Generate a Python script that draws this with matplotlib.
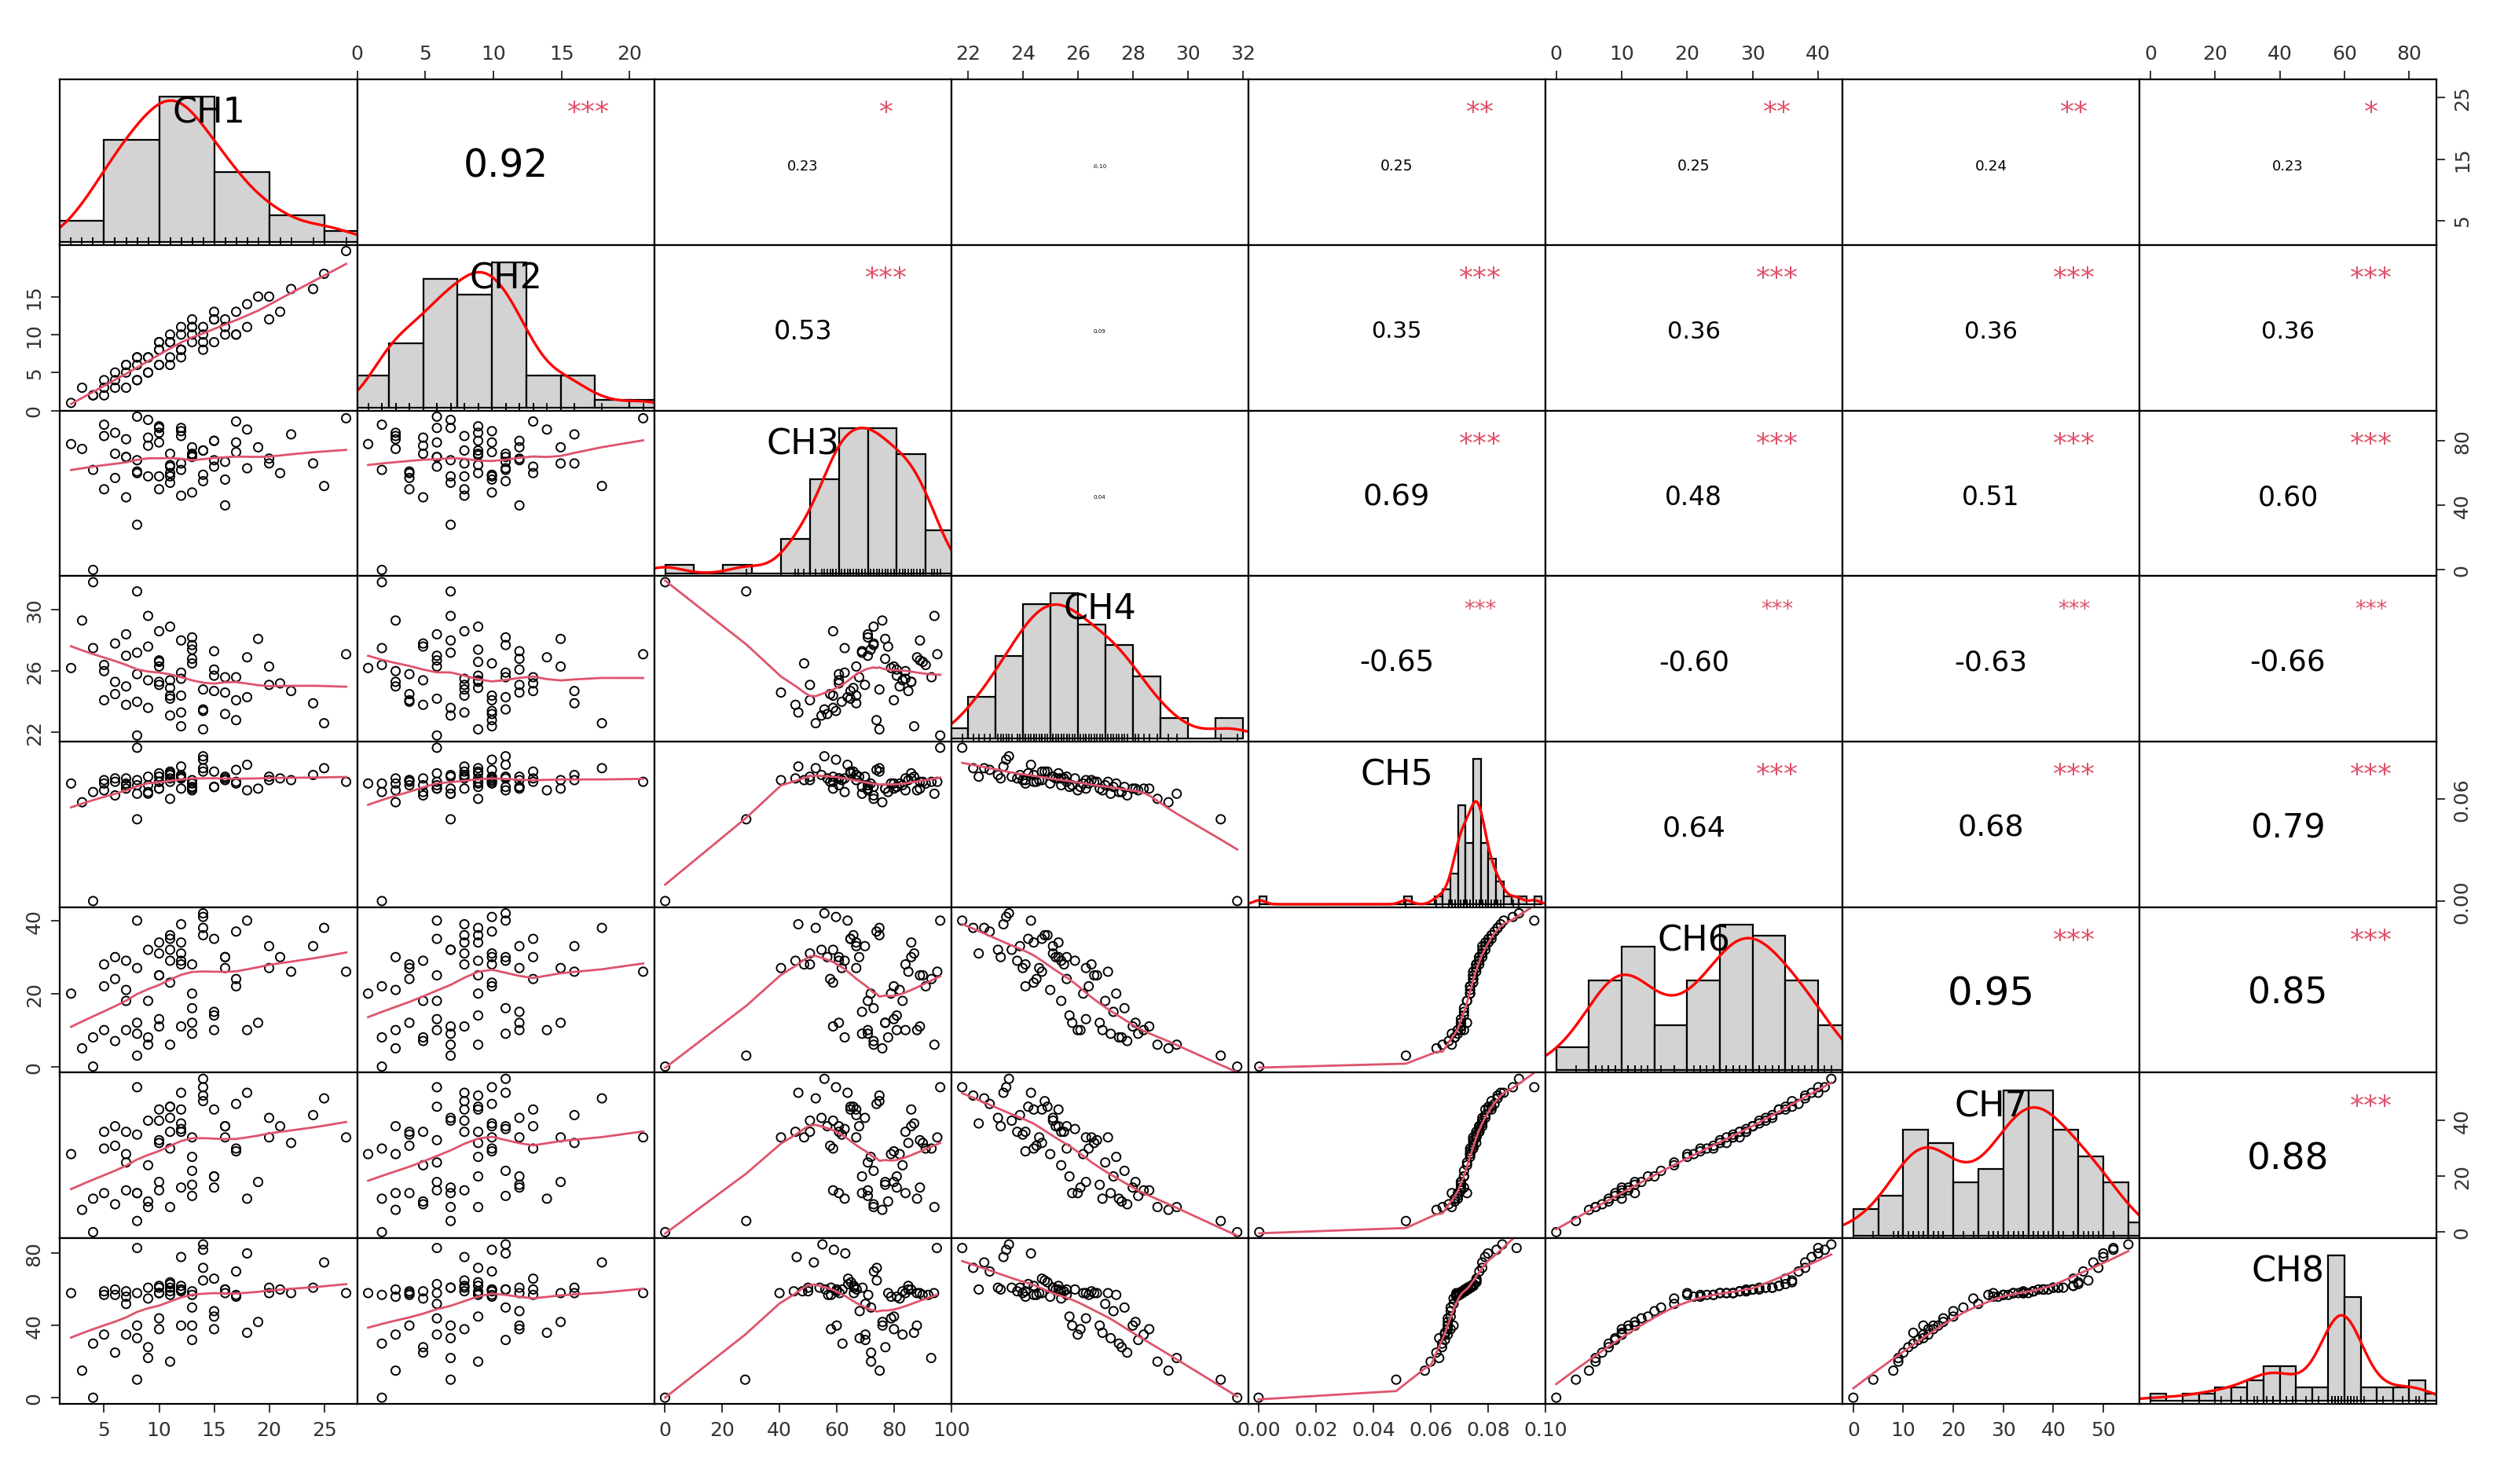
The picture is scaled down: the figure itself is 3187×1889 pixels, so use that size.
import numpy as np
import matplotlib
matplotlib.use("Agg")
import matplotlib.pyplot as plt

names = ["CH1","CH2","CH3","CH4","CH5","CH6","CH7","CH8"]
CH1 = [2,4,5,6,7,8,9,10,11,12, 13,14,15,16,17,18,19,20,22,25, 3,5,7,8,9,10,11,12,13,14,
       15,16,17,18,21,24,27,6,8,10, 11,12,13,14,9,10,11,12,7,15, 4,6,8,10,12,13,16,9,11,14,
       5,7,10,12,15,17,11,13,8,20]
CH2 = [1,2,4,3,6,4,7,6,9,8, 10,8,12,10,13,11,15,12,16,18, 3,2,5,7,5,8,6,10,9,11,
       9,12,10,14,13,16,21,4,7,6, 9,8,11,10,5,9,7,11,3,12, 2,5,4,9,8,12,11,7,10,9,
       3,6,8,7,13,10,9,11,6,15]
CH3 = [78,62,50,85,70,60,58,88,72,66, 48,74,80,56,92,63,76,69,84,52, 75,90,45,68,82,58,64,86,71,55,
       80,40,73,87,60,66,94,57,28,79, 65,83,70,59,77,89,54,62,81,68, 0,72,61,85,46,76,67,93,58,74,
       83,70,50,88,64,79,60,72,95,66]
CH4 = [26.2,27.5,24.1,25.3,28.4,25.8,23.6,26.7,28.9,24.4, 26.5,24.8,26.1,23.2,25.6,24.3,28.1,25.1,24.7,22.6,
       29.3,26.4,23.8,27.2,25.4,28.6,24.2,22.4,27.4,23.5, 25.7,24.6,22.8,26.9,25.2,23.9,27.1,24.5,31.2,26.3,
       24.9,25.5,28.2,23.4,27.6,26.6,23.1,25.9,25.0,27.3, 31.8,27.8,24.0,25.3,23.3,26.8,25.6,29.6,24.4,22.2,
       26.0,27.0,25.1,28.0,24.7,24.1,25.4,27.7,21.8,26.3]
CH5 = [0.069,0.064,0.071,0.072,0.066,0.068,0.073,0.070,0.060,0.074,
       0.071,0.076,0.067,0.072,0.070,0.080,0.066,0.073,0.071,0.078,
       0.058,0.069,0.072,0.063,0.068,0.066,0.075,0.073,0.069,0.085,
       0.067,0.071,0.077,0.065,0.072,0.074,0.070,0.070,0.048,0.066,
       0.076,0.072,0.065,0.083,0.064,0.070,0.074,0.072,0.069,0.067,
       0.0,0.062,0.071,0.075,0.079,0.066,0.073,0.063,0.070,0.078,
       0.065,0.068,0.073,0.066,0.076,0.069,0.072,0.067,0.090,0.071]
CH6 = [20,8,28,30,10,12,32,25,6,34, 28,36,10,30,24,40,12,33,26,38, 5,22,29,9,18,11,35,31,20,42,
       14,27,37,10,30,33,26,24,3,13, 36,28,9,41,8,25,32,29,21,15, 0,7,27,34,39,12,30,6,23,38,
       10,18,31,11,35,22,29,16,40,27]
CH7 = [28,12,36,38,15,14,40,33,9,44, 34,47,16,38,30,50,18,41,32,48, 8,30,36,14,24,15,45,39,27,55,
       20,34,46,12,38,42,34,31,4,18, 45,36,13,52,11,32,41,37,28,20, 0,10,35,44,50,17,38,9,30,49,
       14,25,40,16,44,29,36,22,52,34]
CH8 = [58,30,59,60,35,40,61,58,20,62, 59,65,38,60,57,80,42,61,58,75, 15,57,59,33,55,38,63,60,57,85,
       45,58,70,36,60,61,58,57,10,44, 64,59,32,82,28,58,61,60,56,48, 0,25,58,62,78,40,60,22,57,72,
       35,52,61,40,66,56,59,50,83,58]
data = [np.array(v, float) for v in [CH1,CH2,CH3,CH4,CH5,CH6,CH7,CH8]]
hist_step = [5, 2.5, 10, 1, 0.0025, 5, 5, 5]

corr_vals = {(0,1):"0.92",(0,2):"0.23",(0,3):"-0.10",(0,4):"0.25",(0,5):"0.25",(0,6):"0.24",(0,7):"0.23",
             (1,2):"0.53",(1,3):"0.09",(1,4):"0.35",(1,5):"0.36",(1,6):"0.36",(1,7):"0.36",
             (2,3):"0.04",(2,4):"0.69",(2,5):"0.48",(2,6):"0.51",(2,7):"0.60",
             (3,4):"-0.65",(3,5):"-0.60",(3,6):"-0.63",(3,7):"-0.66",
             (4,5):"0.64",(4,6):"0.68",(4,7):"0.79",
             (5,6):"0.95",(5,7):"0.85",(6,7):"0.88"}
stars = {(0,1):"***",(0,2):"*",(0,3):"",(0,4):"**",(0,5):"**",(0,6):"**",(0,7):"*",
         (1,2):"***",(1,3):"",(1,4):"***",(1,5):"***",(1,6):"***",(1,7):"***",
         (2,3):"",(2,4):"***",(2,5):"***",(2,6):"***",(2,7):"***",
         (3,4):"***",(3,5):"***",(3,6):"***",(3,7):"***",
         (4,5):"***",(4,6):"***",(4,7):"***",(5,6):"***",(5,7):"***",(6,7):"***"}

top_ticks = {1:[0,5,10,15,20],3:[22,24,26,28,30,32],5:[0,10,20,30,40],7:[0,20,40,60,80]}
bottom_ticks = {0:[5,10,15,20,25],2:[0,20,40,60,80,100],4:[0.00,0.02,0.04,0.06,0.08,0.10],6:[0,10,20,30,40,50]}
right_ticks = {0:[5,15,25],2:[0,40,80],4:[0.00,0.06],6:[0,20,40]}
left_ticks = {1:[0,5,10,15],3:[22,26,30],5:[0,20,40],7:[0,40,80]}

def fmt(v, k):
    if k == 4: return f"{v:.2f}"
    return f"{v:g}"

def lowess(x, y, f=2/3):
    o = np.argsort(x); x = x[o]; y = y[o]
    n = len(x); r = int(np.ceil(f*n))
    yh = np.zeros(n)
    for i in range(n):
        d = np.abs(x - x[i]); h = np.sort(d)[r-1] + 1e-12
        w = np.clip(1 - (d/h)**3, 0, 1)**3
        W = np.sum(w); xm = np.sum(w*x)/W; ym = np.sum(w*y)/W
        sxx = np.sum(w*(x-xm)**2)
        b = np.sum(w*(x-xm)*(y-ym))/sxx if sxx > 0 else 0
        yh[i] = ym + b*(x[i]-xm)
    return x, yh

def lims(v):
    lo, hi = v.min(), v.max(); p = (hi-lo)*0.04
    return lo-p, hi+p

fig = plt.figure(figsize=(15.935, 9.45), dpi=200)
L, R, B, T = 0.024, 0.973, 0.054, 0.946
w = (R-L)/8; h = (T-B)/8
red_star = "#DF536B"
for i in range(8):
    for j in range(8):
        ax = fig.add_axes([L+j*w, T-(i+1)*h, w, h])
        ax.set_xticks([]); ax.set_yticks([])
        x = data[j]; y = data[i]
        ax.set_xlim(*lims(x))
        if i == j:
            v = data[i]
            st_ = hist_step[i]
            edges = np.arange(np.floor(v.min()/st_)*st_, v.max()+st_*1.001, st_)
            counts, edges = np.histogram(v, bins=edges)
            dens = counts/(len(v)*np.diff(edges))
            ax.bar(edges[:-1], dens, width=np.diff(edges), align='edge',
                   color="#D3D3D3", edgecolor="black", linewidth=0.8)
            bw = 0.9*min(v.std(), (np.percentile(v,75)-np.percentile(v,25))/1.34)*len(v)**(-0.2)
            gx = np.linspace(*lims(v), 300)
            kd = np.exp(-0.5*((gx[:,None]-v[None,:])/bw)**2).sum(1)/(len(v)*bw*np.sqrt(2*np.pi))
            ax.plot(gx, kd, color="red", lw=1.2)
            ax.plot(v, np.zeros_like(v), '|', color='black', ms=4, mew=0.6)
            top = max(dens.max(), kd.max())
            ax.set_ylim(-0.02*top, top*1.12)
            ax.text(0.5, 0.8, names[i], transform=ax.transAxes, ha='center', va='center', fontsize=16)
        elif i > j:
            ax.set_ylim(*lims(y))
            ax.scatter(x, y, s=16, facecolors='none', edgecolors='black', linewidths=0.7)
            lx, ly = lowess(x, y)
            ax.plot(lx, ly, color="#DF536B", lw=1.0)
        else:
            ax.set_ylim(*lims(y))
            s = corr_vals[(i,j)]
            r = abs(float(s))
            st = stars[(i,j)]
            if st:
                fs = np.interp(r, [0.2,0.3,0.36,0.6,0.7,0.95], [6,7.5,11,12.5,14,18])
            else:
                fs = 2.5
            ax.text(0.5, 0.48, s, transform=ax.transAxes, ha='center', va='center', fontsize=fs)
            if st:
                ax.text(0.78, 0.8, st, transform=ax.transAxes, ha='center', va='center',
                        fontsize=10 if i == 3 else 13, color=red_star)
        if i == 0 and j in top_ticks:
            ax.xaxis.set_ticks_position('top')
            ax.set_xticks(top_ticks[j]); ax.set_xticklabels([fmt(t,j) for t in top_ticks[j]])
        if i == 7 and j in bottom_ticks:
            ax.set_xticks(bottom_ticks[j]); ax.set_xticklabels([fmt(t,j) for t in bottom_ticks[j]])
        if j == 7 and i in right_ticks:
            ax.yaxis.set_ticks_position('right')
            ax.set_yticks(right_ticks[i]); ax.set_yticklabels([fmt(t,i) for t in right_ticks[i]], rotation=90, va='center')
        if j == 0 and i in left_ticks:
            ax.set_yticks(left_ticks[i]); ax.set_yticklabels([fmt(t,i) for t in left_ticks[i]], rotation=90, va='center')
        ax.tick_params(labelsize=9, length=4, width=0.7, colors='#333333')
        for sp in ax.spines.values(): sp.set_linewidth(0.8)
fig.savefig("out.png", dpi=200)
